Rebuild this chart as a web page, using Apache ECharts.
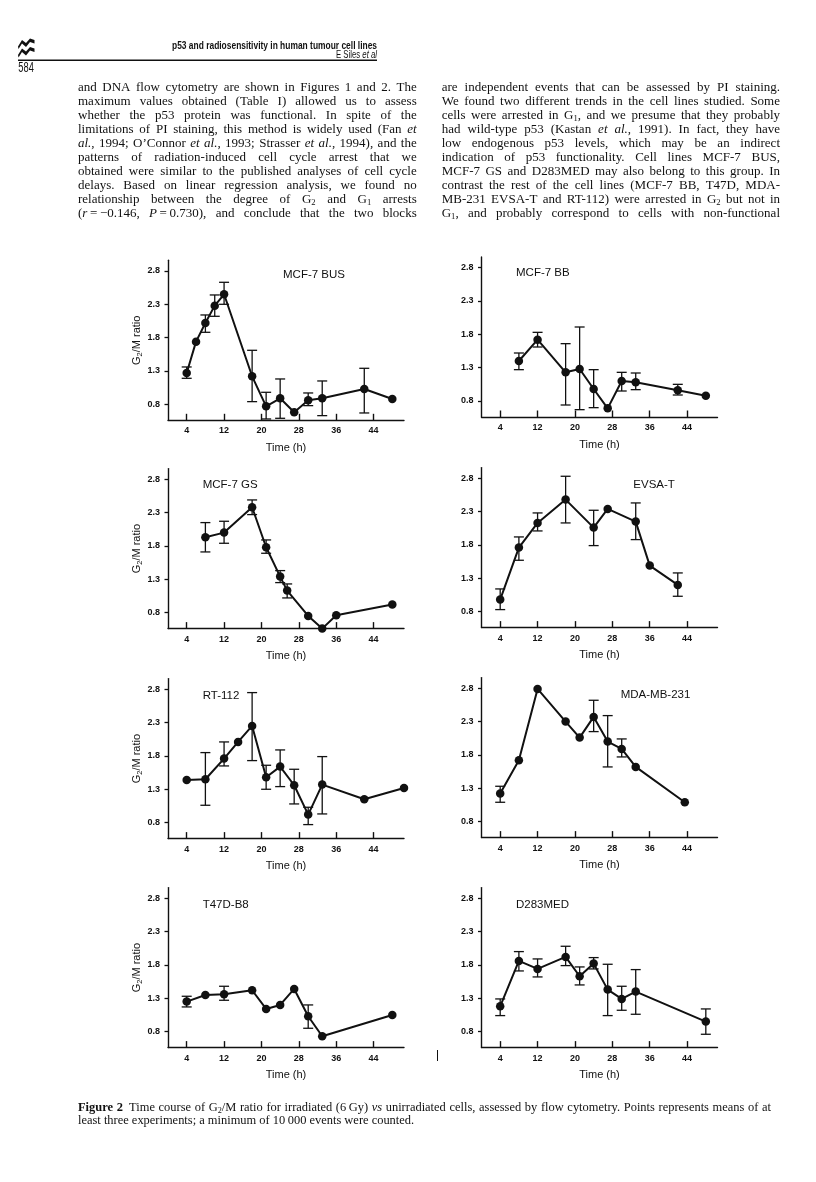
<!DOCTYPE html>
<html><head><meta charset="utf-8">
<script src="https://cdn.jsdelivr.net/npm/echarts@6/dist/echarts.min.js"></script>
<style>html,body{margin:0;padding:0;background:#fff}#c{width:816px;height:1182px}</style>
</head><body><div id="c"></div>
<script>
// ---------- DATA ----------
const xTicks = [4, 12, 20, 28, 36, 44];
const yTicks = [0.8, 1.3, 1.8, 2.3, 2.8];
const panelNames = ['MCF-7 BUS', 'MCF-7 BB', 'MCF-7 GS', 'EVSA-T', 'RT-112', 'MDA-MB-231', 'T47D-B8', 'D283MED'];

const busT  = [4, 6, 8, 10, 12, 18, 21, 24, 27, 30, 33, 42, 48];
const busY  = [1.27, 1.74, 2.02, 2.28, 2.45, 1.22, 0.77, 0.89, 0.68, 0.86, 0.89, 1.03, 0.88];
const busHi = [1.36, null, 2.14, 2.44, 2.63, 1.61, 0.98, 1.18, null, 0.97, 1.15, 1.34, null];
const busLo = [1.19, null, 1.88, 2.12, 2.30, 0.84, 0.58, 0.59, null, 0.78, 0.63, 0.67, null];

const bbT  = [8, 12, 18, 21, 24, 27, 30, 33, 42, 48];
const bbY  = [1.40, 1.72, 1.23, 1.28, 0.98, 0.69, 1.10, 1.08, 0.96, 0.88];
const bbHi = [1.52, 1.83, 1.66, 1.91, 1.27, null, 1.23, 1.22, 1.05, null];
const bbLo = [1.27, 1.61, 0.74, 0.67, 0.70, null, 0.95, 0.97, 0.89, null];

const gsT  = [8, 12, 18, 21, 24, 25.5, 30, 33, 36, 48];
const gsY  = [1.93, 2.00, 2.38, 1.78, 1.34, 1.13, 0.75, 0.56, 0.76, 0.92];
const gsHi = [2.15, 2.17, 2.49, 1.89, 1.43, 1.23, null, null, null, null];
const gsLo = [1.71, 1.84, 2.27, 1.69, 1.25, 1.02, null, null, null, null];

const evT  = [4, 8, 12, 18, 24, 27, 33, 36, 42];
const evY  = [0.98, 1.76, 2.13, 2.48, 2.06, 2.34, 2.15, 1.49, 1.20];
const evHi = [1.14, 1.92, 2.28, 2.83, 2.32, null, 2.43, null, 1.38];
const evLo = [0.83, 1.57, 2.01, 2.13, 1.79, null, 1.88, null, 1.03];

const rtT  = [4, 8, 12, 15, 18, 21, 24, 27, 30, 33, 42, 50.5];
const rtY  = [1.44, 1.45, 1.76, 2.01, 2.25, 1.48, 1.64, 1.36, 0.92, 1.37, 1.15, 1.32];
const rtHi = [null, 1.85, 2.01, null, 2.75, 1.66, 1.89, 1.60, 1.03, 1.79, null, null];
const rtLo = [null, 1.06, 1.65, null, 1.73, 1.30, 1.34, 1.08, 0.77, 0.93, null, null];

const mdaT  = [4, 8, 12, 18, 21, 24, 27, 30, 33, 43.5];
const mdaY  = [1.22, 1.72, 2.79, 2.30, 2.06, 2.37, 2.00, 1.89, 1.62, 1.09];
const mdaHi = [1.33, null, null, null, null, 2.62, 2.39, 2.04, null, null];
const mdaLo = [1.09, null, null, null, null, 2.15, 1.62, 1.77, null, null];

const t47T  = [4, 8, 12, 18, 21, 24, 27, 30, 33, 48];
const t47Y  = [1.25, 1.35, 1.36, 1.42, 1.14, 1.20, 1.44, 1.03, 0.73, 1.05];
const t47Hi = [1.33, null, 1.48, null, null, null, null, 1.20, null, null];
const t47Lo = [1.17, null, 1.27, null, null, null, null, 0.85, null, null];

const dmT  = [4, 8, 12, 18, 21, 24, 27, 30, 33, 48];
const dmY  = [1.18, 1.86, 1.74, 1.92, 1.63, 1.82, 1.43, 1.29, 1.40, 0.95];
const dmHi = [1.29, 2.00, 1.89, 2.08, 1.77, 1.91, 1.81, 1.48, 1.73, 1.14];
const dmLo = [1.04, 1.71, 1.62, 1.79, 1.50, 1.74, 1.04, 1.12, 1.06, 0.76];

// ---------- TEXT ----------
const headTitle = 'p53 and radiosensitivity in human tumour cell lines';
const headAuthor = 'E Siles ';
const headAuthorIt = 'et al';
const pageNo = '584';
const leftLines = [
  'and DNA flow cytometry are shown in Figures 1 and 2. The',
  'maximum values obtained (Table I) allowed us to assess',
  'whether the p53 protein was functional. In spite of the',
  'limitations of PI staining, this method is widely used (Fan {i|et}',
  '{i|al.}, 1994; O\u2019Connor {i|et} {i|al.}, 1993; Strasser {i|et} {i|al.}, 1994), and the',
  'patterns of radiation-induced cell cycle arrest that we',
  'obtained were similar to the published analyses of cell cycle',
  'delays. Based on linear regression analysis, we found no',
  'relationship between the degree of G{s|2} and G{s|1} arrests',
  '({i|r}\u2009=\u2009\u22120.146, {i|P}\u2009=\u20090.730), and conclude that the two blocks'
];
const rightLines = [
  'are independent events that can be assessed by PI staining.',
  'We found two different trends in the cell lines studied. Some',
  'cells were arrested in G{s|1}, and we presume that they probably',
  'had wild-type p53 (Kastan {i|et} {i|al.}, 1991). In fact, they have',
  'low endogenous p53 levels, which may be an indirect',
  'indication of p53 functionality. Cell lines MCF-7 BUS,',
  'MCF-7 GS and D283MED may also belong to this group. In',
  'contrast the rest of the cell lines (MCF-7 BB, T47D, MDA-',
  'MB-231 EVSA-T and RT-112) were arrested in G{s|2} but not in',
  'G{s|1}, and probably correspond to cells with non-functional'
];
const captionLines = [
  '{b|Figure} {b|2}\u2002Time course of G{s|2}/M ratio for irradiated (6\u2009Gy) {i|vs} unirradiated cells, assessed by flow cytometry. Points represents means of at',
  'least three experiments; a minimum of 10\u2009000 events were counted.'
];

// ---------- LAYOUT ----------
const SANS = '"Liberation Sans", Arial, Helvetica, sans-serif';
const SERIF = '"Liberation Serif", "Times New Roman", serif';
const INK = '#111';
const layout = [
  {left: 168,   top: 260.3, tx: 283,   ty: 275},
  {left: 481.5, top: 257,   tx: 516,   ty: 273.3},
  {left: 168,   top: 468.6, tx: 202.7, ty: 485},
  {left: 481.5, top: 467.6, tx: 633.3, ty: 485},
  {left: 168,   top: 678.6, tx: 202.7, ty: 695.7},
  {left: 481.5, top: 677.6, tx: 620.7, ty: 695},
  {left: 168,   top: 887.6, tx: 202.7, ty: 905},
  {left: 481.5, top: 887.6, tx: 516,   ty: 905}
];
const panels = [
  {t: busT, y: busY, hi: busHi, lo: busLo},
  {t: bbT, y: bbY, hi: bbHi, lo: bbLo},
  {t: gsT, y: gsY, hi: gsHi, lo: gsLo},
  {t: evT, y: evY, hi: evHi, lo: evLo},
  {t: rtT, y: rtY, hi: rtHi, lo: rtLo},
  {t: mdaT, y: mdaY, hi: mdaHi, lo: mdaLo},
  {t: t47T, y: t47Y, hi: t47Hi, lo: t47Lo},
  {t: dmT, y: dmY, hi: dmHi, lo: dmLo}
];

function renderErr(params, api) {
  const x = api.value(0), lo = api.value(1), hi = api.value(2);
  const a = api.coord([x, hi]), b = api.coord([x, lo]);
  const c = 5;
  const st = {stroke: INK, lineWidth: 1.3};
  return {type: 'group', children: [
    {type: 'line', shape: {x1: a[0], y1: a[1], x2: b[0], y2: b[1]}, style: st},
    {type: 'line', shape: {x1: a[0] - c, y1: a[1], x2: a[0] + c, y2: a[1]}, style: st},
    {type: 'line', shape: {x1: b[0] - c, y1: b[1], x2: b[0] + c, y2: b[1]}, style: st}
  ]};
}

const grid = [], xAxis = [], yAxis = [], series = [], title = [];
panels.forEach((p, i) => {
  const L = layout[i];
  grid.push({left: L.left, top: L.top, width: 236, height: 160});
  xAxis.push({
    type: 'value', gridIndex: i, min: 0, max: 50.5,
    axisLine: {show: true, onZero: false, lineStyle: {color: INK, width: 1.4}},
    axisTick: {show: true, inside: true, length: 6.5, customValues: xTicks, lineStyle: {color: INK, width: 1.4}},
    axisLabel: {show: true, customValues: xTicks, color: INK, fontSize: 9, fontWeight: 'bold', fontFamily: SANS, margin: 6},
    splitLine: {show: false},
    name: 'Time (h)', nameLocation: 'middle', nameGap: 22,
    nameTextStyle: {color: INK, fontSize: 11, fontFamily: SANS}
  });
  const y = {
    type: 'value', gridIndex: i, min: 0.56, max: 2.96,
    axisLine: {show: true, onZero: false, lineStyle: {color: INK, width: 1.4}},
    axisTick: {show: true, inside: false, length: 3.5, customValues: yTicks, lineStyle: {color: INK, width: 1.3}},
    axisLabel: {show: true, customValues: yTicks, color: INK, fontSize: 9, fontWeight: 'bold', fontFamily: SANS, margin: 8,
      formatter: v => Number(v).toFixed(1)},
    splitLine: {show: false}
  };
  if (i % 2 === 0) {
    y.name = '{n|G}{s|2}{n|/M ratio}';
    y.nameLocation = 'middle';
    y.nameGap = 23;
    y.nameTextStyle = {rich: {
      n: {fontSize: 11, fontFamily: SANS, color: INK, lineHeight: 14},
      s: {fontSize: 7.5, fontFamily: SANS, color: INK, verticalAlign: 'bottom', lineHeight: 9}
    }};
  }
  yAxis.push(y);
  title.push({text: panelNames[i], left: L.tx, top: L.ty - 6.5, padding: 0,
    textStyle: {color: INK, fontSize: 11.5, fontWeight: 'normal', fontFamily: SANS, lineHeight: 13}});
  series.push({
    type: 'line', xAxisIndex: i, yAxisIndex: i, clip: false,
    data: p.t.map((t, k) => [t, p.y[k]]),
    symbol: 'circle', symbolSize: 8.5,
    lineStyle: {color: INK, width: 2}, itemStyle: {color: INK},
    z: 3, silent: true
  });
  const err = [];
  p.t.forEach((t, k) => { if (p.hi[k] != null) err.push([t, p.lo[k], p.hi[k]]); });
  series.push({type: 'custom', xAxisIndex: i, yAxisIndex: i, data: err, renderItem: renderErr,
    encode: {x: 0, y: [1, 2]}, silent: true, z: 2, clip: false});
});

// ---------- TEXT GRAPHICS ----------
const ctx = document.createElement('canvas').getContext('2d');
function parseWord(w) {
  const segs = []; const re = /\{(\w)\|([^}]*)\}|([^{]+)/g; let m;
  while ((m = re.exec(w))) {
    if (m[3] !== undefined) segs.push({st: 'n', tx: m[3]}); else segs.push({st: m[1], tx: m[2]});
  }
  return segs;
}
function segSize(st, size) { return st === 's' ? size * 0.66 : size; }
function segFont(st, size, fam) {
  return (st === 'i' ? 'italic ' : '') + (st === 'b' ? 'bold ' : '') + segSize(st, size) + 'px ' + fam;
}
function measureSeg(s, size, fam) { ctx.font = segFont(s.st, size, fam); return ctx.measureText(s.tx).width; }
function wordWidth(segs, size, fam) { return segs.reduce((a, s) => a + measureSeg(s, size, fam), 0); }
function emitWord(out, segs, x, y, size, fam) {
  segs.forEach(s => {
    out.push({type: 'text', x: x, y: y + (s.st === 's' ? size * 0.24 : 0), silent: true,
      style: {text: s.tx, fontSize: segSize(s.st, size), fontFamily: fam,
        fontStyle: s.st === 'i' ? 'italic' : 'normal', fontWeight: s.st === 'b' ? 'bold' : 'normal',
        fill: INK, align: 'left', verticalAlign: 'middle'}});
    x += measureSeg(s, size, fam);
  });
}
function lineNatural(line, size, fam) {
  const words = line.split(' ').map(parseWord);
  ctx.font = size + 'px ' + fam;
  const sp = ctx.measureText(' ').width;
  return words.reduce((a, w) => a + wordWidth(w, size, fam), 0) + sp * (words.length - 1);
}
function layoutLine(out, line, x0, x1, y, size, fam, justify) {
  const words = line.split(' ').map(parseWord);
  const ws = words.map(w => wordWidth(w, size, fam));
  const tot = ws.reduce((a, b) => a + b, 0);
  ctx.font = size + 'px ' + fam;
  const sp = ctx.measureText(' ').width;
  const gap = (justify && words.length > 1) ? Math.max(sp * 0.5, (x1 - x0 - tot) / (words.length - 1)) : sp;
  let x = x0;
  words.forEach((w, k) => { emitWord(out, w, x, y, size, fam); x += ws[k] + gap; });
}

const g = [];
// body columns
leftLines.forEach((ln, k) => layoutLine(g, ln, 78, 416.7, 87.3 + k * 14.08, 13, SERIF, true));
rightLines.forEach((ln, k) => layoutLine(g, ln, 441.7, 780, 87.3 + k * 14.08, 13, SERIF, true));
// caption
const capW = 771 - 78;
const capNat = lineNatural(captionLines[0], 10, SERIF);
const capSize = Math.min(12.5, 10 * capW * 0.985 / capNat);
layoutLine(g, captionLines[0], 78, 771, 1108, capSize, SERIF, true);
layoutLine(g, captionLines[1], 78, 771, 1121, capSize, SERIF, false);

// header
const HEAD_R = 377;
ctx.font = 'bold 11px ' + SANS;
const htW = ctx.measureText(headTitle).width;
g.push({type: 'text', x: HEAD_R, y: 46, scaleX: 205 / htW, silent: true,
  style: {text: headTitle, fontSize: 11, fontWeight: 'bold', fontFamily: SANS, fill: INK, align: 'right', verticalAlign: 'middle'}});
ctx.font = 'italic 10px ' + SANS;
const itW = ctx.measureText(headAuthorIt).width;
ctx.font = '10px ' + SANS;
const auW = ctx.measureText(headAuthor).width;
const auScale = 41 / (itW + auW);
g.push({type: 'text', x: HEAD_R, y: 54.8, scaleX: auScale, silent: true,
  style: {text: headAuthorIt, fontSize: 10, fontStyle: 'italic', fontFamily: SANS, fill: INK, align: 'right', verticalAlign: 'middle'}});
g.push({type: 'text', x: HEAD_R - itW * auScale, y: 54.8, scaleX: auScale, silent: true,
  style: {text: headAuthor, fontSize: 10, fontFamily: SANS, fill: INK, align: 'right', verticalAlign: 'middle'}});
g.push({type: 'line', silent: true, shape: {x1: 18, y1: 60.2, x2: HEAD_R, y2: 60.2}, style: {stroke: INK, lineWidth: 1.4}});
ctx.font = '14px ' + SANS;
const pnW = ctx.measureText(pageNo).width;
g.push({type: 'text', x: 18.3, y: 67.8, scaleX: 15.5 / pnW, silent: true,
  style: {text: pageNo, fontSize: 14, fontFamily: SANS, fill: INK, align: 'left', verticalAlign: 'middle'}});
// publisher logo (two stacked wave shapes)
const wavePts = [[0, 8], [4, 1.5], [8, 4.5], [12, 0], [16.5, 1.5], [16.5, 5], [12, 3.5], [8, 8.5], [4, 5], [0.5, 10.5]];
g.push({type: 'polygon', x: 18, y: 38.5, silent: true, shape: {points: wavePts}, style: {fill: INK}});
g.push({type: 'polygon', x: 18, y: 47, silent: true, shape: {points: wavePts}, style: {fill: INK}});
// small scan mark between the lower panels
g.push({type: 'line', silent: true, shape: {x1: 437.5, y1: 1050, x2: 437.5, y2: 1061}, style: {stroke: INK, lineWidth: 1}});

const chart = echarts.init(document.getElementById('c'), null, {renderer: 'canvas'});
chart.setOption({
  backgroundColor: '#fff',
  animation: false,
  textStyle: {fontFamily: SANS},
  title: title, grid: grid, xAxis: xAxis, yAxis: yAxis, series: series,
  graphic: {elements: g}
});
</script></body></html>
